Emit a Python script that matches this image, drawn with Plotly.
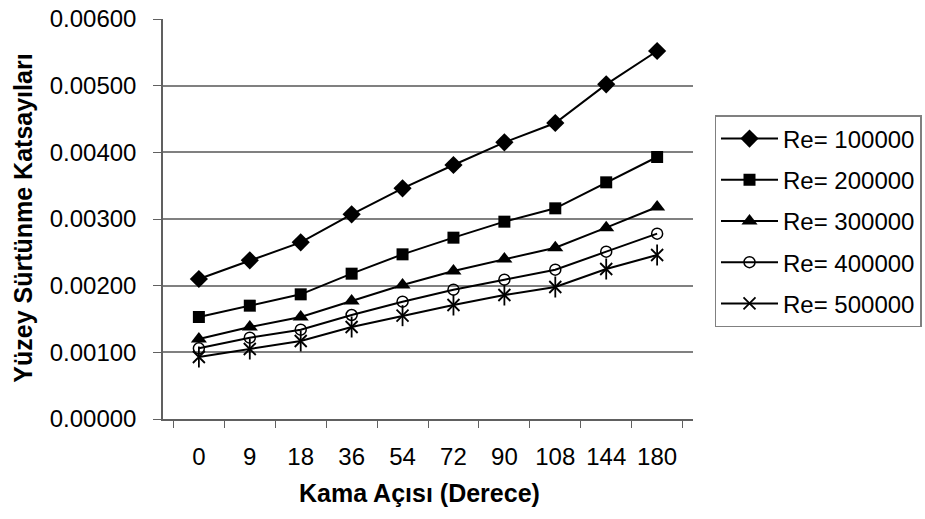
import plotly.graph_objects as go

angles = ["0", "9", "18", "36", "54", "72", "90", "108", "144", "180"]
re_100000 = [0.00210, 0.00238, 0.00265, 0.00307, 0.00346, 0.00381, 0.00415, 0.00444, 0.00502, 0.00552]
re_200000 = [0.00153, 0.00170, 0.00187, 0.00218, 0.00247, 0.00272, 0.00296, 0.00316, 0.00355, 0.00393]
re_300000 = [0.00120, 0.00138, 0.00153, 0.00177, 0.00201, 0.00222, 0.00240, 0.00257, 0.00287, 0.00318]
re_400000 = [0.00106, 0.00122, 0.00134, 0.00156, 0.00176, 0.00194, 0.00209, 0.00224, 0.00251, 0.00278]
re_500000 = [0.00093, 0.00105, 0.00117, 0.00138, 0.00155, 0.00171, 0.00186, 0.00198, 0.00225, 0.00246]
series_names = ["Re= 100000", "Re= 200000", "Re= 300000", "Re= 400000", "Re= 500000"]

FONT = "Liberation Sans, Arial, sans-serif"

fig = go.Figure()

styles = [
    dict(symbol="diamond", size=14, color="black", line=dict(width=0)),
    dict(symbol="square", size=12, color="black", line=dict(width=0)),
    dict(symbol="triangle-up", size=14, color="black", line=dict(width=0)),
    dict(symbol="circle-open", size=11, color="black", line=dict(width=1.5, color="black")),
    dict(symbol="x-thin-open", size=12, color="black", line=dict(width=1.8, color="black")),
]
data = [re_100000, re_200000, re_300000, re_400000, re_500000]

for i, (name, vals, st) in enumerate(zip(series_names, data, styles)):
    fig.add_trace(go.Scatter(
        x=angles, y=vals, name=name, mode="lines+markers",
        legendgroup=f"g{i}",
        line=dict(color="black", width=2),
        marker=st,
    ))

# vertical stroke of the star marker for the last series
fig.add_trace(go.Scatter(
    x=angles, y=re_500000, mode="markers", showlegend=False, legendgroup="g4",
    marker=dict(symbol="line-ns-open", size=15, color="black",
                line=dict(width=1.8, color="black")),
    hoverinfo="skip",
))

fig.update_layout(
    width=925, height=519,
    margin=dict(l=163, r=232, t=19, b=100, autoexpand=False),
    paper_bgcolor="white", plot_bgcolor="white",
    font=dict(family=FONT, size=24, color="black"),
    showlegend=True,
    legend=dict(
        x=(714.5 - 163) / 530, y=(419 - 115) / 400, xanchor="left", yanchor="top",
        bordercolor="#808080", borderwidth=1.5, bgcolor="white",
        font=dict(family=FONT, size=24, color="black"),
        tracegroupgap=7, itemwidth=57,
    ),
    xaxis=dict(
        type="category", tickson="boundaries", ticks="outside", ticklen=7,
        tickcolor="#606060", showline=True, linecolor="#606060", linewidth=1.5,
        showgrid=False, tickfont=dict(size=24), ticklabelstandoff=15,
        automargin=False,
    ),
    yaxis=dict(
        range=[0, 0.006], dtick=0.001, tickformat=".5f", ticks="outside", ticklen=8,
        tickcolor="#606060", showline=True, linecolor="#606060", linewidth=1.5,
        showgrid=True, gridcolor="#808080", gridwidth=1.5, zeroline=False,
        tickfont=dict(size=24), ticklabelstandoff=12, automargin=False,
    ),
    annotations=[
        dict(text="<b>Kama Açısı (Derece)</b>", xref="paper", yref="paper",
             x=(419 - 163) / 530, y=(419 - 493) / 400, xanchor="center", yanchor="middle",
             showarrow=False, font=dict(family=FONT, size=25, color="black")),
        dict(text="<b>Yüzey Sürtünme Katsayıları</b>", xref="paper", yref="paper",
             x=(22.7 - 163) / 530, y=(419 - 218) / 400, xanchor="center", yanchor="middle",
             textangle=-90, showarrow=False, font=dict(family=FONT, size=25, color="black")),
    ],
)

fig.write_html("out.html")
